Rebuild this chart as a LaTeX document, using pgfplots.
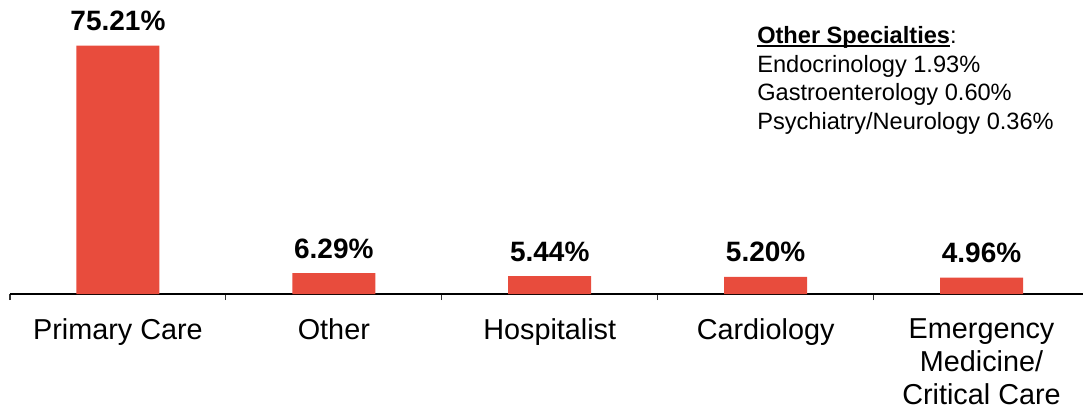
\documentclass[border=0pt]{standalone}
\usepackage{fontspec}
\setmainfont{Liberation Sans}
\usepackage{pgfplots}
\pgfplotsset{compat=1.18}
\definecolor{barred}{HTML}{E84C3D}
\newcommand\myul[1]{\setbox0\hbox{#1}\rlap{\rule[-2.6pt]{\wd0}{1.1pt}}\box0}
\begin{document}
\begin{tikzpicture}[x=1pt,y=1pt]
\useasboundingbox (-7.5,-87.75) rectangle (804.75,220.5);
\begin{axis}[
  at={(0pt,0pt)}, anchor=south west,
  scale only axis, width=804.75pt, height=220.5pt,
  ymin=0, ymax=89, xmin=-0.5, xmax=4.47,
  axis y line=none, axis x line*=bottom,
  x axis line style={line width=0.8pt},
  ybar, bar width=62.25pt, bar shift=0pt,
  xtick={0,1,2,3,4},
  xticklabels={Primary Care, Other, Hospitalist, Cardiology, {Emergency\\Medicine/\\Critical Care}},
  major tick length=0pt,
  minor xtick={-0.5,0.5,1.5,2.5,3.5},
  minor tick length=4.5pt,
  xtick align=outside,
  minor tick style={line width=0.8pt, color=black!80},
  xticklabel style={font=\fontsize{21.6}{24.8}\selectfont, align=center, yshift=-15pt},
  point meta=explicit symbolic,
  nodes near coords={\pgfplotspointmeta\%},
  every node near coord/.append style={font=\bfseries\fontsize{21}{24}\selectfont, yshift=7.5pt, text=black},
  clip=false,
]
\addplot[fill=barred, draw=none] coordinates {
  (0,75.21) [75.21]
  (1,6.29) [6.29]
  (2,5.44) [5.44]
  (3,5.20) [5.20]
  (4,4.96) [4.96]
};
\end{axis}
\node[anchor=north west, inner sep=0pt, align=left, font=\fontsize{17.7}{21}\selectfont] at (560.25pt,201pt)
 {\myul{\textbf{Other Specialties}}:\\[0.5pt]Endocrinology 1.93\%\\[0.2pt]Gastroenterology 0.60\%\\[1pt]Psychiatry/Neurology 0.36\%};
\end{tikzpicture}
\end{document}
